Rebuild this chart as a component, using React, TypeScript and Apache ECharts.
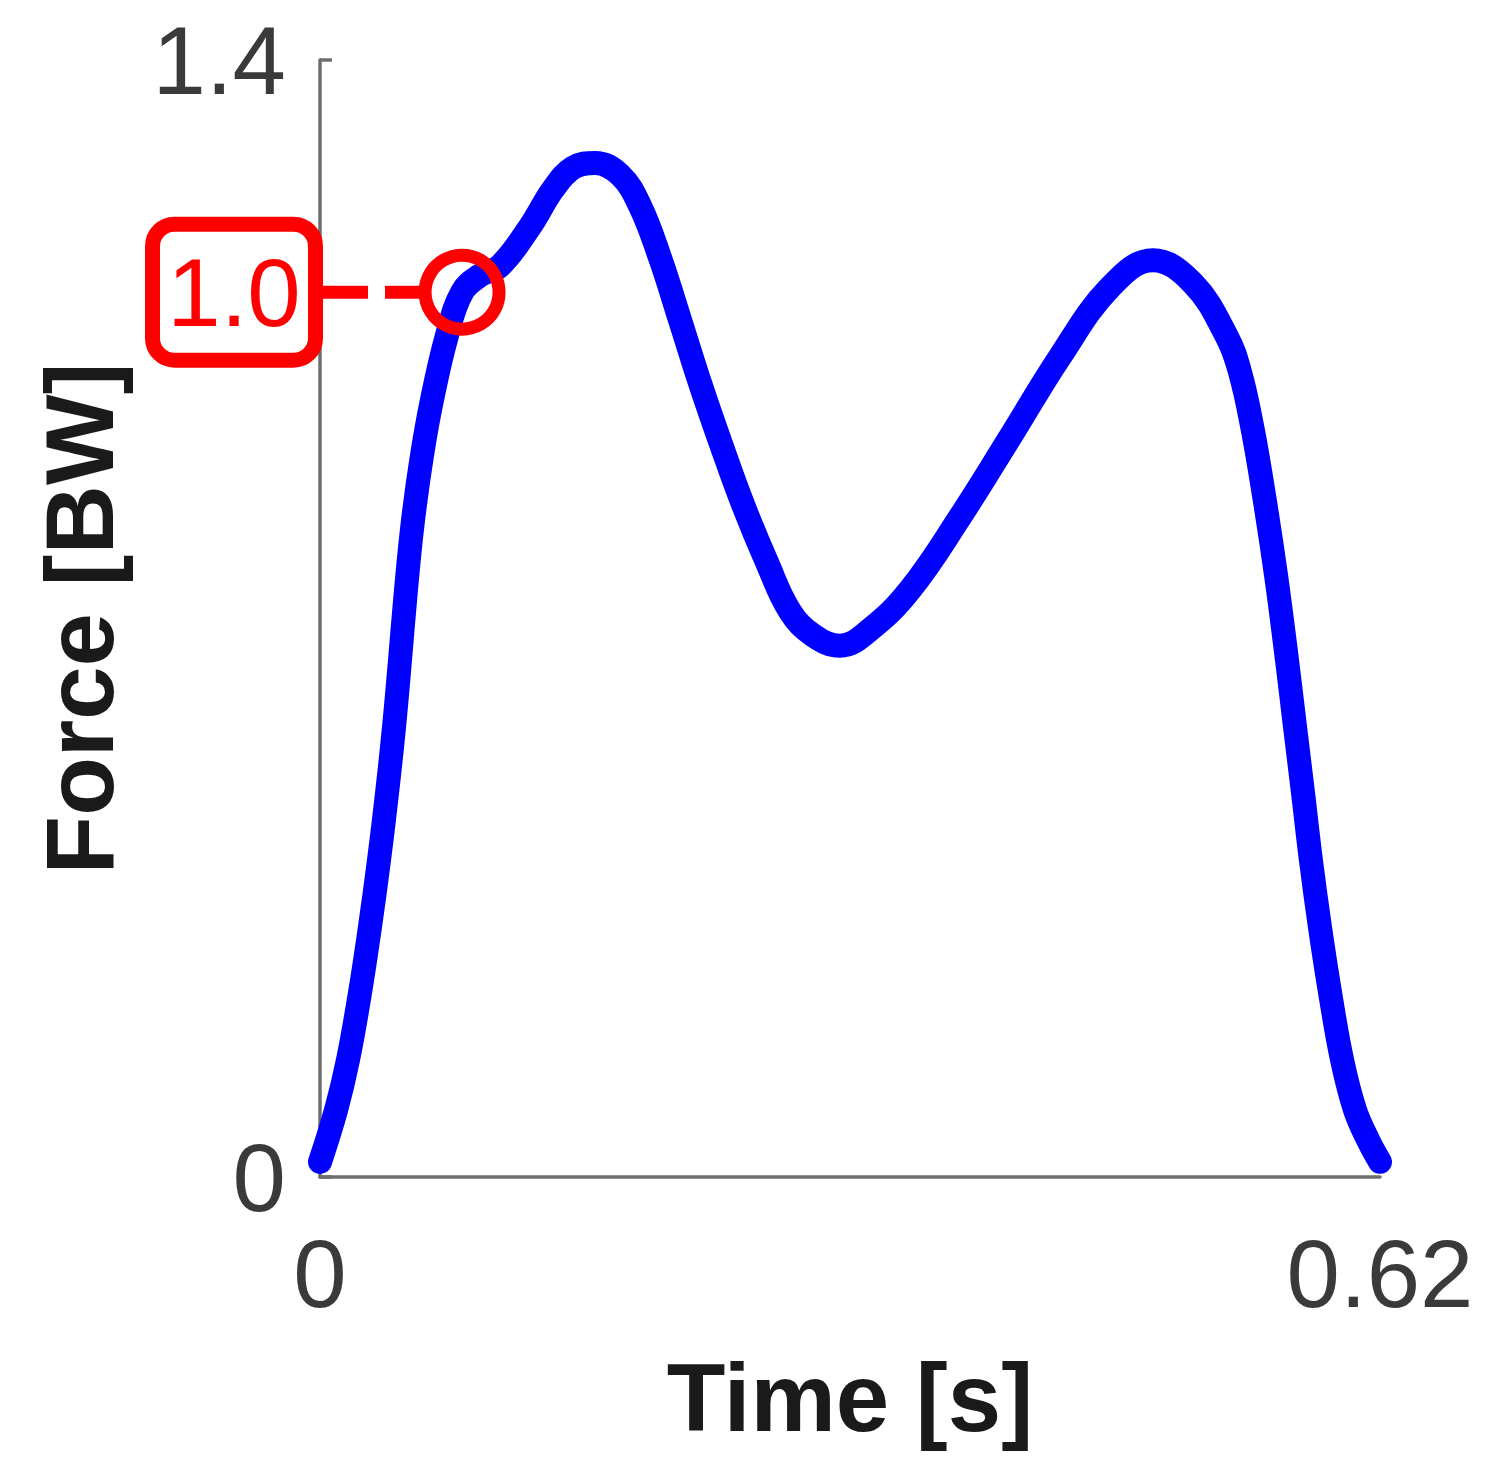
import React, { useEffect, useRef } from "react";
import * as echarts from "echarts";

// Time [s]
const times = [
  0, 0.0094, 0.0164, 0.0234, 0.0292, 0.0345, 0.0392, 0.0433, 0.0468, 0.0503,
  0.0544, 0.0597, 0.0655, 0.0743, 0.0831, 0.0936, 0.1053, 0.1228, 0.1363, 0.148,
  0.1609, 0.1755, 0.1872, 0.1989, 0.2106, 0.2223, 0.234, 0.2474, 0.2615, 0.2749,
  0.2884, 0.3042, 0.3217, 0.3451, 0.3743, 0.4036, 0.4328, 0.4621, 0.4872, 0.5106,
  0.5305, 0.5381, 0.5451, 0.5521, 0.5592, 0.5656, 0.5703, 0.575, 0.5796, 0.5849,
  0.5908, 0.5978, 0.6054, 0.6136, 0.62,
];
// Force [BW]
const forces = [
  0.019, 0.084, 0.147, 0.231, 0.313, 0.397, 0.481, 0.564, 0.648, 0.736,
  0.823, 0.905, 0.974, 1.055, 1.109, 1.13, 1.142, 1.191, 1.238, 1.265,
  1.271, 1.256, 1.217, 1.152, 1.074, 0.995, 0.922, 0.843, 0.77, 0.709,
  0.679, 0.666, 0.686, 0.736, 0.827, 0.927, 1.028, 1.115, 1.149, 1.12,
  1.053, 1.009, 0.942, 0.855, 0.754, 0.648, 0.564, 0.481, 0.397, 0.313,
  0.231, 0.147, 0.084, 0.044, 0.019,
];
const xTickLabels = ["0", "0.62"];
const yTickLabels = ["0", "1.4"];
const xMax = 0.62;
const yMax = 1.4;
const markerTime = 0.0831;
const markerForce = 1.109;
const markerLabel = "1.0";

const FONT = "'Liberation Sans', Arial, Helvetica, sans-serif";
const AXIS_COLOR = "#6e6e6e";
const TICK_COLOR = "#3a3a3a";
const NAME_COLOR = "#1a1a1a";
const RED = "#ff0000";
const BLUE = "#0000ff";

export default function App() {
  const ref = useRef<HTMLDivElement>(null);

  useEffect(() => {
    const chart = echarts.init(ref.current!, null, { renderer: "svg" });
    const data = times.map((t, i) => [t, forces[i]]);

    chart.setOption({
      animation: false,
      backgroundColor: "#ffffff",
      grid: { left: 320, right: 110, top: 60, bottom: 307, containLabel: false },
      xAxis: {
        type: "value",
        min: 0,
        max: xMax,
        interval: xMax,
        name: "Time [s]",
        nameLocation: "middle",
        nameGap: 172,
        nameTextStyle: { fontFamily: FONT, fontSize: 96, fontWeight: "bold", color: NAME_COLOR },
        axisLine: { show: true, onZero: false, lineStyle: { color: AXIS_COLOR, width: 3.5 } },
        axisTick: { show: false },
        splitLine: { show: false },
        axisLabel: {
          margin: 48,
          fontFamily: FONT,
          fontSize: 96,
          color: TICK_COLOR,
          formatter: (v: number) => (v === 0 ? xTickLabels[0] : xTickLabels[1]),
        },
      },
      yAxis: {
        type: "value",
        min: 0,
        max: yMax,
        interval: yMax,
        name: "Force [BW]",
        nameLocation: "middle",
        nameGap: 193,
        nameRotate: 90,
        nameTextStyle: { fontFamily: FONT, fontSize: 96, fontWeight: "bold", color: NAME_COLOR },
        axisLine: { show: true, lineStyle: { color: AXIS_COLOR, width: 3.5 } },
        axisTick: { show: true, inside: true, length: 12, lineStyle: { color: AXIS_COLOR, width: 3.5 } },
        splitLine: { show: false },
        axisLabel: {
          margin: 34,
          fontFamily: FONT,
          fontSize: 96,
          color: TICK_COLOR,
          formatter: (v: number) => (v === 0 ? yTickLabels[0] : yTickLabels[1]),
        },
      },
      series: [
        {
          type: "line",
          data,
          smooth: 0.4,
          symbol: "none",
          lineStyle: { color: BLUE, width: 24, cap: "round", join: "round" },
          markPoint: {
            symbol: "circle",
            symbolSize: 74,
            silent: true,
            label: { show: false },
            itemStyle: { color: "rgba(0,0,0,0)", borderColor: RED, borderWidth: 13 },
            data: [{ coord: [markerTime, markerForce] }],
          },
        },
      ],
    });

    const p = chart.convertToPixel({ gridIndex: 0 }, [markerTime, markerForce]) as number[];
    const p0 = chart.convertToPixel({ gridIndex: 0 }, [0, markerForce]) as number[];
    const boxRight = p0[0] + 3;
    const boxW = 178;
    const boxH = 151;
    const sw = 15;
    const cx = boxRight - boxW / 2;

    chart.setOption({
      graphic: [
        {
          type: "rect",
          z: 100,
          shape: {
            x: boxRight - boxW + sw / 2,
            y: p[1] - boxH / 2 + sw / 2,
            width: boxW - sw,
            height: boxH - sw,
            r: 22,
          },
          style: { fill: "#ffffff", stroke: RED, lineWidth: sw },
        },
        {
          type: "text",
          z: 101,
          x: cx,
          y: p[1],
          style: {
            text: markerLabel,
            fontFamily: FONT,
            fontSize: 96,
            fill: RED,
            align: "center",
            verticalAlign: "middle",
          },
        },
        {
          type: "line",
          z: 100,
          shape: { x1: boxRight, y1: p[1], x2: p[0] - 43, y2: p[1] },
          style: { stroke: RED, lineWidth: 13, lineDash: [45, 17] },
        },
      ],
    });

    return () => chart.dispose();
  }, []);

  return (
    <div
      ref={ref}
      style={{ position: "absolute", left: 0, top: 0, width: 1490, height: 1484 }}
    />
  );
}
